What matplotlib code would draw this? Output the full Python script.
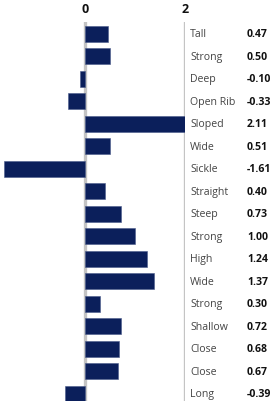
import matplotlib.pyplot as plt

names = ["Tall", "Strong", "Deep", "Open Rib", "Sloped", "Wide", "Sickle",
         "Straight", "Steep", "Strong", "High", "Wide", "Strong", "Shallow",
         "Close", "Close", "Long"]
values = [0.47, 0.50, -0.10, -0.33, 2.11, 0.51, -1.61, 0.40, 0.73,
          1.00, 1.24, 1.37, 0.30, 0.72, 0.68, 0.67, -0.39]
ticks = [0, 2]

NAVY = "#0b1f5b"
GRID = "#c4c4c4"

fig = plt.figure(figsize=(2.79, 4.02), dpi=100)
H = 402
top_px = 23
n = len(names)
row_px = 22.5
span = n + 0.02
height_px = span * row_px
ax = fig.add_axes([0, (H - top_px - height_px) / H, 185 / 279, height_px / H])

pos = list(range(n))
ax.barh(pos, values, height=0.71, color=NAVY, edgecolor="#4a5a8a",
        linewidth=0.4, zorder=3)

for t in ticks:
    ax.axvline(t, color=GRID, lw=2.4, zorder=2)

ax.set_xlim(-1.7, 2.0)
ax.set_ylim(n - 0.5, -0.52)

for s in ax.spines.values():
    s.set_visible(False)
ax.set_yticks([])
ax.xaxis.tick_top()
ax.set_xticks(ticks)
ax.set_xticklabels([str(t) for t in ticks], fontsize=9, fontweight="bold",
                   family="Open Sans", color="#111111")
ax.tick_params(axis="x", length=0, pad=5)

for i, (nm, v) in enumerate(zip(names, values)):
    ax.text(2.1, i, nm, va="center", ha="left", fontsize=7.6,
            family="Open Sans", color="#444444", clip_on=False)
    ax.text(3.24, i, f"{v:.2f}", va="center", ha="left", fontsize=7.6,
            family="Open Sans", fontweight="bold", color="#111111", clip_on=False)

fig.savefig("out.png", dpi=100)
